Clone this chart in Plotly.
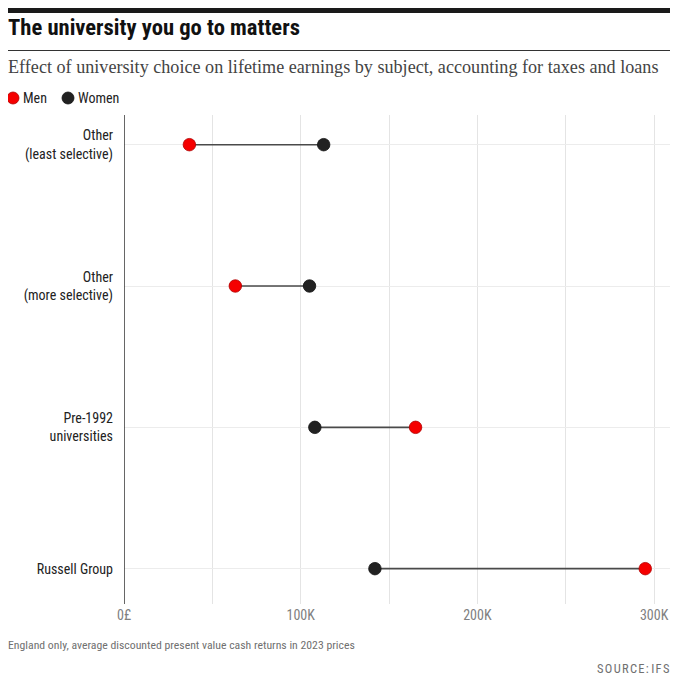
import plotly.graph_objects as go

categories = ["Russell Group", "Pre-1992<br>universities", "Other<br>(more selective)", "Other<br>(least selective)"]
men = [295000, 165000, 63000, 37000]
women = [142000, 108000, 105000, 113000]
x_tickvals = [0, 100000, 200000, 300000]
x_ticktext = ["0£", "100K", "200K", "300K"]
legend_names = ["Men", "Women"]
legend_colors = ["#f50000", "#222222"]

COND = "Roboto Condensed, Liberation Sans Narrow, DejaVu Sans Condensed, sans-serif"
ypos = list(range(len(categories)))

# page has an 8px body margin: work in figure pixels = page pixels - 8
OFF = 8
W, H = 673, 670
L, R, T, B = 116, 11, 107, 74
PW, PH = W - L - R, H - T - B

def px(xpage):
    return (xpage - OFF - L) / PW

def py(ypage):
    return (H - (ypage - OFF) - B) / PH

fig = go.Figure()

lx, ly = [], []
for i in ypos:
    lx += [men[i], women[i], None]
    ly += [i, i, None]
fig.add_trace(go.Scatter(x=lx, y=ly, mode="lines", line=dict(color="#4a4a4a", width=1.6),
                         hoverinfo="skip", showlegend=False))
fig.add_trace(go.Scatter(x=men, y=ypos, mode="markers", name="Men", showlegend=False,
                         marker=dict(color="#f50000", size=12.5, line=dict(color="#b00000", width=0.8))))
fig.add_trace(go.Scatter(x=women, y=ypos, mode="markers", name="Women", showlegend=False,
                         marker=dict(color="#222222", size=12.5, line=dict(color="#111111", width=0.8))))

shapes = [
    dict(type="rect", xref="paper", yref="paper", x0=px(8), x1=px(670), y0=py(13), y1=py(5),
         fillcolor="#1a1a1a", line=dict(width=0)),
    dict(type="line", xref="paper", yref="paper", x0=px(8), x1=px(670), y0=py(50.5), y1=py(50.5),
         line=dict(color="#333333", width=1)),
    dict(type="line", xref="x", yref="paper", x0=0, x1=0, y0=0, y1=1,
         line=dict(color="#333333", width=1.5)),
]

def ann(text, xpage, ypage, anchor="left", **font):
    return dict(text=text, xref="paper", yref="paper", x=px(xpage), y=py(ypage),
                showarrow=False, xanchor=anchor, yanchor="middle", font=font)

annotations = [
    ann("<b>The university you go to matters</b>", 6, 28,
        family="Roboto Condensed, Roboto, Liberation Sans, sans-serif", size=22.6, color="#111111"),
    ann("Effect of university choice on lifetime earnings by subject, accounting for taxes and loans", 6, 67,
        family="Liberation Serif, DejaVu Serif, serif", size=18.15, color="#444444"),
    ann("England only, average discounted present value cash returns in 2023 prices", 6, 645,
        family=COND, size=11.75, color="#707070"),
    ann("S\u200aO\u200aU\u200aR\u200aC\u200aE\u200a:\u2009I\u200aF\u200aS", 671, 668, anchor="right",
        family=COND, size=12.5, color="#707070"),
]

# legend (dots + labels)
leg_x = [13, 68]
for name, col, lxp in zip(legend_names, legend_colors, leg_x):
    shapes.append(dict(type="circle", xref="paper", yref="paper",
                       x0=px(lxp - 6), x1=px(lxp + 6), y0=py(98 + 6), y1=py(98 - 6),
                       fillcolor=col, line=dict(color="#111111" if col != "#f50000" else "#b00000", width=0.8)))
    annotations.append(ann(name, lxp + 8, 98, family=COND, size=14, color="#222222"))

fig.update_layout(
    width=W, height=H,
    margin=dict(l=L, r=R, t=T, b=B),
    paper_bgcolor="white", plot_bgcolor="white",
    font=dict(family=COND, color="#222222", size=13),
    showlegend=False,
    xaxis=dict(range=[0, 309000], tickvals=x_tickvals, ticktext=x_ticktext,
               showgrid=True, gridcolor="#e4e4e4", gridwidth=1.2,
               minor=dict(dtick=50000, tick0=0, showgrid=True, gridcolor="#e4e4e4", gridwidth=1.2),
               zeroline=False, showline=False, ticks="",
               tickfont=dict(size=14, color="#808080"), ticklabelstandoff=1),
    yaxis=dict(range=[-0.25, 3.21], tickvals=ypos, ticktext=categories,
               showgrid=True, gridcolor="#ececec", gridwidth=1,
               zeroline=False, showline=False, ticks="",
               tickfont=dict(size=14, color="#222222"), ticklabelstandoff=10),
    shapes=shapes,
    annotations=annotations,
)

fig.write_html("out.html")
